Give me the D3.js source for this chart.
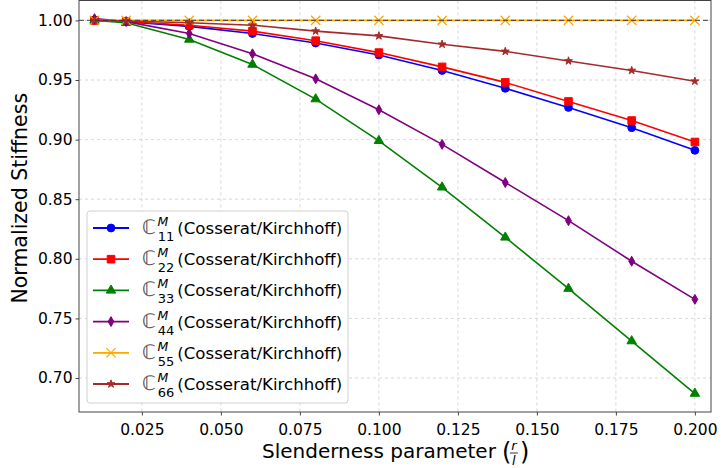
<!DOCTYPE html>
<html>
<head>
<meta charset="utf-8">
<script src="https://cdn.jsdelivr.net/npm/d3@7"></script>
<style>
body { margin:0; background:#fff; }
text { font-family: "DejaVu Sans", sans-serif; }
.grid line { stroke:#b0b0b0; stroke-dasharray:3,3; stroke-width:0.8; opacity:0.6; }
</style>
</head>
<body>
<div id="sketch1"></div>
<script>
// slenderness values
var slender = [0.01, 0.02, 0.04, 0.06, 0.08, 0.10, 0.12, 0.14, 0.16, 0.18, 0.20];

var c11 = [1.000, 0.999, 0.995, 0.989, 0.981, 0.971, 0.958, 0.943, 0.927, 0.910, 0.891];
var c22 = [1.000, 0.999, 0.996, 0.991, 0.983, 0.973, 0.961, 0.948, 0.932, 0.916, 0.898];
var c33 = [1.000, 0.998, 0.984, 0.963, 0.934, 0.899, 0.860, 0.818, 0.775, 0.731, 0.687];
var c44 = [1.0015, 0.999, 0.989, 0.972, 0.951, 0.925, 0.896, 0.864, 0.832, 0.798, 0.766];
var c55 = [1.000, 1.000, 1.000, 1.000, 1.000, 1.000, 1.000, 1.000, 1.000, 1.000, 1.000];
var c66 = [1.000, 0.9995, 0.998, 0.996, 0.991, 0.987, 0.980, 0.974, 0.966, 0.958, 0.949];

var subs = ["11", "22", "33", "44", "55", "66"];
var xTicks = [0.025, 0.050, 0.075, 0.100, 0.125, 0.150, 0.175, 0.200];
var yTicks = [0.70, 0.75, 0.80, 0.85, 0.90, 0.95, 1.00];

var series = [
    {vals:c11, sub:subs[0], color:"blue",    marker:"circle"},
    {vals:c22, sub:subs[1], color:"red",     marker:"square"},
    {vals:c33, sub:subs[2], color:"green",   marker:"triangle"},
    {vals:c44, sub:subs[3], color:"purple",  marker:"thindiamond"},
    {vals:c55, sub:subs[4], color:"orange",  marker:"x"},
    {vals:c66, sub:subs[5], color:"brown",   marker:"star"}
];

var margin = {t:0.5,r:10,b:56,l:79};
var W = 721, H = 468;
var width = W - margin.l - margin.r,
    height = H - margin.t - margin.b;

var svg = d3.select('#sketch1').append('svg')
    .attr('width', W).attr('height', H);
var plot = svg.append('g')
    .attr('transform','translate('+margin.l+','+margin.t+')');

var scaleX = d3.scaleLinear().domain([0.0051, 0.2051]).range([0, width]);
var scaleY = d3.scaleLinear().domain([0.6715, 1.0167]).range([height, 0]);

// grid
plot.append('g').attr('class','grid')
    .selectAll('line').data(xTicks).enter().append('line')
    .attr('x1', function(d){return scaleX(d);}).attr('x2', function(d){return scaleX(d);})
    .attr('y1', 0).attr('y2', height);
plot.append('g').attr('class','grid')
    .selectAll('line').data(yTicks).enter().append('line')
    .attr('y1', function(d){return scaleY(d);}).attr('y2', function(d){return scaleY(d);})
    .attr('x1', 0).attr('x2', width);

function markerPath(type, s) {
    if (type === "circle") return d3.symbol(d3.symbolCircle, s*s*0.75)();
    if (type === "square") return d3.symbol(d3.symbolSquare, s*s*0.9)();
    if (type === "triangle") return d3.symbol(d3.symbolTriangle, s*s*0.6)();
    if (type === "star") return d3.symbol(d3.symbolStar, s*s*0.3)();
    if (type === "x") return d3.symbol(d3.symbolTimes, s*s*0.9)();
    if (type === "thindiamond") {
        var h = s*0.62, w = s*0.36;
        return "M0,"+(-h)+"L"+w+",0L0,"+h+"L"+(-w)+",0Z";
    }
}

function drawMarker(g, type, color, s) {
    var p = g.append('path').attr('d', markerPath(type, s));
    if (type === "x") {
        p.attr('fill','none').attr('stroke', color).attr('stroke-width', 1.2);
    } else {
        p.attr('fill', color).attr('stroke', color).attr('stroke-width', 1);
    }
    return p;
}

var line = d3.line()
    .x(function(d,i){return scaleX(slender[i]);})
    .y(function(d){return scaleY(d);});

series.forEach(function(s){
    plot.append('path')
        .attr('d', line(s.vals))
        .attr('fill','none')
        .attr('stroke', s.color)
        .attr('stroke-width', 1.6);
    s.vals.forEach(function(v,i){
        var g = plot.append('g')
            .attr('transform','translate('+scaleX(slender[i])+','+scaleY(v)+')');
        drawMarker(g, s.marker, s.color, 8);
    });
});

// reference line at 1
plot.append('line')
    .attr('x1', 0).attr('x2', width)
    .attr('y1', scaleY(1)).attr('y2', scaleY(1))
    .attr('stroke','#333').attr('stroke-opacity',0.75)
    .attr('stroke-width',1.2).attr('stroke-dasharray','5,3');

// axes
var axisX = plot.append('g')
    .attr('transform','translate(0,'+height+')')
    .call(d3.axisBottom(scaleX).tickValues(xTicks).tickFormat(d3.format('.3f')).tickSize(3.5).tickSizeOuter(0));
var axisY = plot.append('g')
    .call(d3.axisLeft(scaleY).tickValues(yTicks).tickFormat(d3.format('.2f')).tickSize(3.5).tickSizeOuter(0));
[axisX, axisY].forEach(function(a){
    a.select('.domain').remove();
    a.selectAll('text').attr('font-size', 15.5).attr('fill','#000')
        .style('font-family','"DejaVu Sans", sans-serif');
    a.selectAll('line').attr('stroke','#444');
});
axisX.selectAll('text').attr('dy','1.05em');

plot.append('rect')
    .attr('width', width).attr('height', height)
    .attr('fill','none').attr('stroke','#444').attr('stroke-width',1);

// legend
var leg = svg.append('g').attr('transform','translate(87,211)');
leg.append('rect')
    .attr('width', 261).attr('height', 192).attr('rx', 3)
    .attr('fill','#fff').attr('fill-opacity',0.85)
    .attr('stroke','#d0d0d0');
series.forEach(function(s, i){
    var row = leg.append('g').attr('transform','translate(0,'+(17+i*31.2)+')');
    row.append('line').attr('x1',6).attr('x2',42)
        .attr('stroke', s.color).attr('stroke-width',1.8);
    var mg = row.append('g').attr('transform','translate(24,0)');
    drawMarker(mg, s.marker, s.color, 8);
    var t = row.append('text').attr('x', 55).attr('y', 6).attr('font-size', 16.6);
    t.append('tspan').text('\u2102').attr('font-size', 20).attr('fill','#555');
    t.append('tspan').text('M').attr('font-style','italic').attr('font-size', 12.5)
        .attr('dx', 1.5).attr('dy', -8);
    t.append('tspan').text(s.sub).attr('font-size', 13)
        .attr('dx', -10.5).attr('dy', 15);
    t.append('tspan').text('(Cosserat/Kirchhoff)').attr('dx', 3).attr('dy', -7);
});

// axis labels
var yl = svg.append('text')
    .attr('transform','translate(27,'+(margin.t+height/2 - 8)+') rotate(-90)')
    .attr('text-anchor','middle').attr('font-size', 20.5)
    .text('Normalized Stiffness');

var xl = svg.append('g');
var xt = xl.append('text').attr('x', 262).attr('y', 458).attr('font-size', 20)
    .text('Slenderness parameter');
var xw = xt.node().getComputedTextLength();
var px = 262 + xw + 6;
xl.append('text').attr('x', px).attr('y', 460).attr('font-size', 24).text('(');
xl.append('text').attr('x', px + 12).attr('y', 450).attr('font-size', 13)
    .attr('font-style','italic').attr('text-anchor','middle').text('r');
xl.append('line').attr('x1', px+8).attr('x2', px+16).attr('y1', 453).attr('y2', 453)
    .attr('stroke','#000').attr('stroke-width',0.8);
xl.append('text').attr('x', px + 12).attr('y', 465).attr('font-size', 13)
    .attr('font-style','italic').attr('text-anchor','middle').text('l');
xl.append('text').attr('x', px + 18).attr('y', 460).attr('font-size', 24).text(')');
</script>
</body>
</html>
